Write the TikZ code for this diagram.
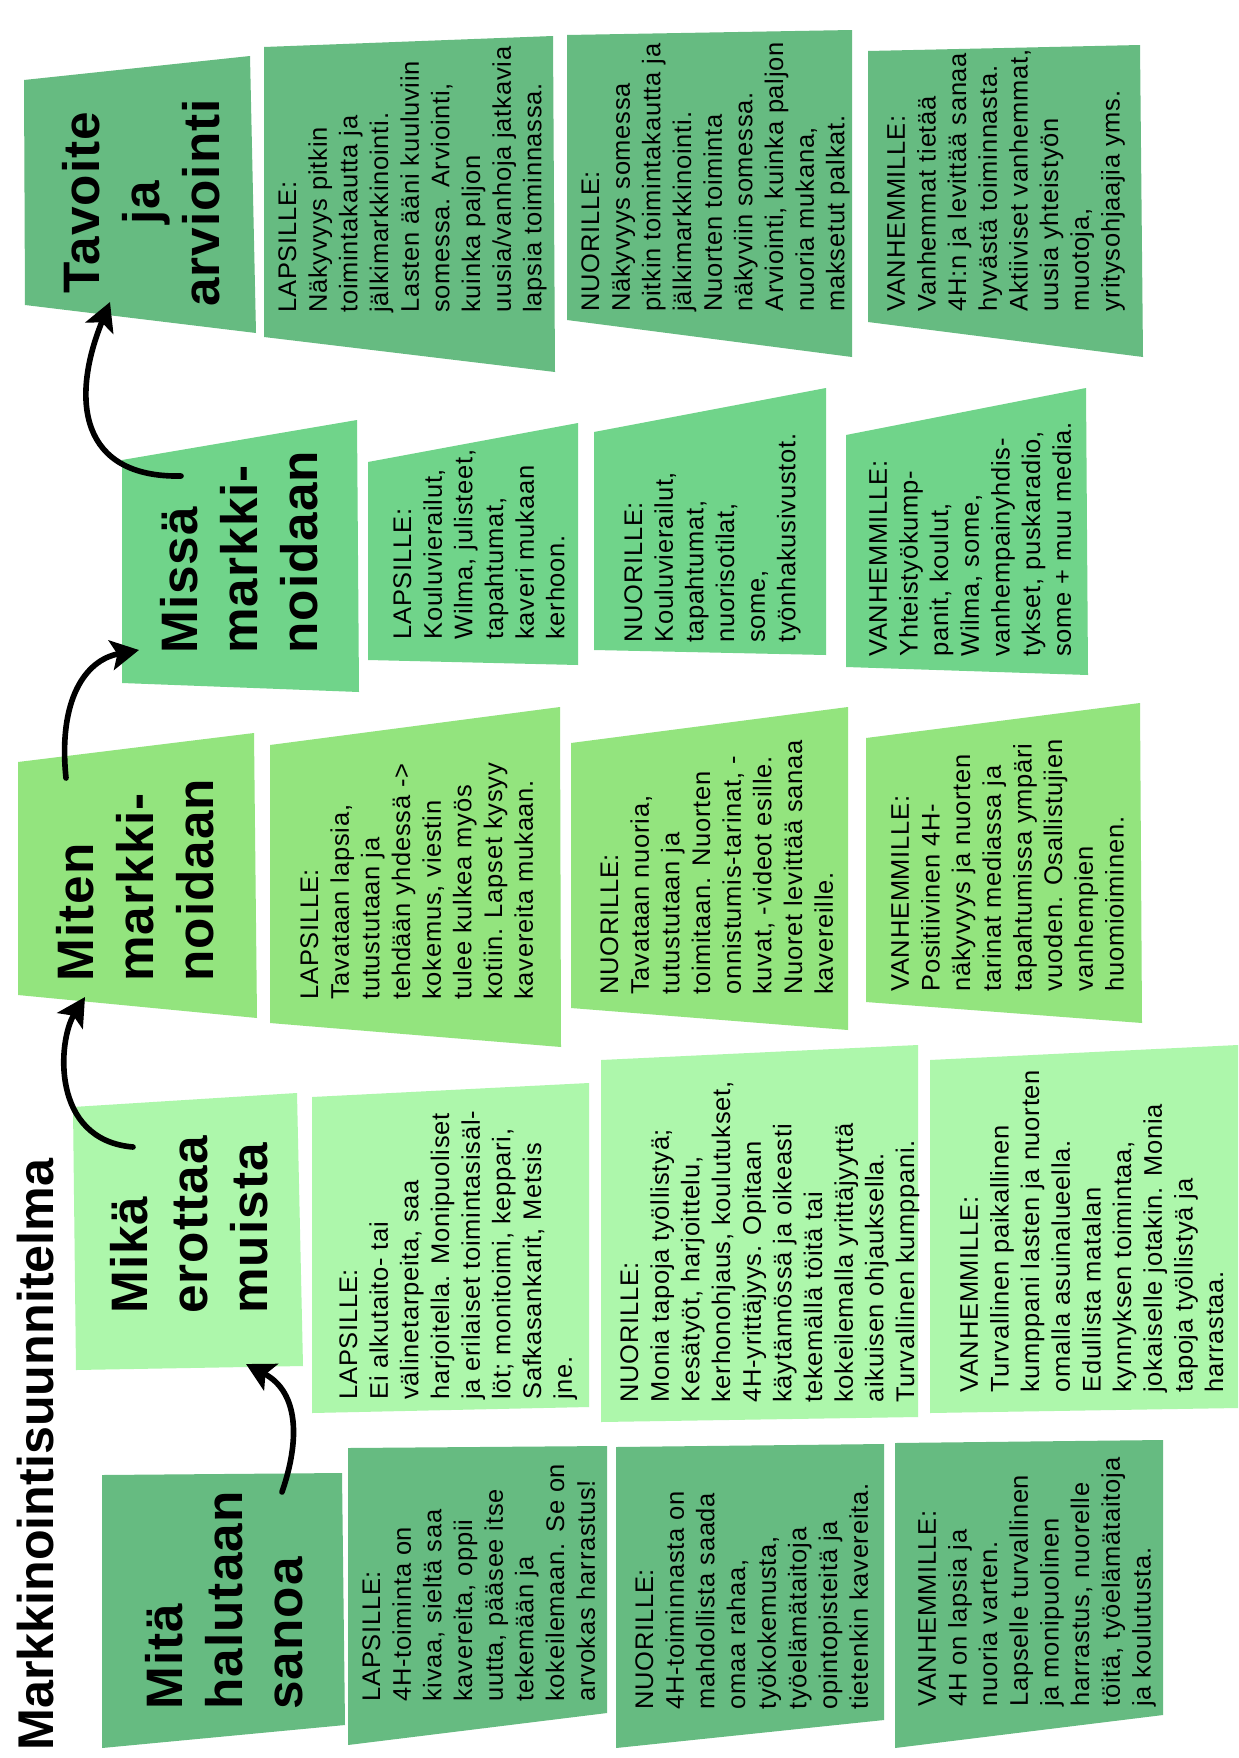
\documentclass[tikz,border=0pt]{standalone}
\usepackage{fontspec}
\usetikzlibrary{arrows.meta}
\newfontfamily\bodyfont[LetterSpace=3]{Liberation Sans}
\newfontfamily\headfont[LetterSpace=2]{Liberation Sans}
\newfontfamily\titlefont{Liberation Sans}
\definecolor{gA}{HTML}{66BB81}
\definecolor{gB}{HTML}{70D48A}
\definecolor{gC}{HTML}{93E47E}
\definecolor{gD}{HTML}{ADF7AB}
\tikzset{
  body/.style={rotate=90, anchor=north west, inner sep=0pt, align=left, text=black,
    font=\bodyfont\fontsize{14.5}{17.45}\selectfont},
  head/.style={rotate=90, anchor=north west, inner sep=0pt, align=left, text=black,
    font=\headfont\bfseries\fontsize{29.2}{34.1}\selectfont},
  flow/.style={line width=3.2pt, line cap=round, -{Stealth[length=16pt,width=17pt,inset=3.5pt]}},
}
\begin{document}
\begin{tikzpicture}[x=0.02cm, y=-0.02cm]
\useasboundingbox (0,0) rectangle (1239,1758);
\fill[white] (0,0) rectangle (1239,1758);

% ---------- column 5 : Tavoite ja arviointi ----------
\fill[gA] (24,80) -- (250,56) -- (256,333) -- (25,305) -- cycle;
\fill[gA] (264,47) -- (553,36) -- (555,372) -- (264,337) -- cycle;
\fill[gA] (567,35) -- (852,30) -- (852,357) -- (567,320) -- cycle;
\fill[gA] (868,51) -- (1140,45) -- (1143,357) -- (868,322) -- cycle;
% ---------- column 4 : Missä ----------
\fill[gB] (122,460) -- (357,420) -- (359,692) -- (122,683) -- cycle;
\fill[gB] (368,462) -- (578,423) -- (578,665) -- (368,660) -- cycle;
\fill[gB] (594,432) -- (826,388) -- (826,655) -- (594,650) -- cycle;
\fill[gB] (846,435) -- (1086,388) -- (1088,675) -- (846,667) -- cycle;
% ---------- column 3 : Miten ----------
\fill[gC] (18,762) -- (254,733) -- (257,1018) -- (18,995) -- cycle;
\fill[gC] (270,745) -- (560,707) -- (561,1047) -- (270,1023) -- cycle;
\fill[gC] (571,743) -- (848,707) -- (848,1030) -- (571,1008) -- cycle;
\fill[gC] (866,738) -- (1140,703) -- (1142,1023) -- (866,1002) -- cycle;
% ---------- column 2 : Mikä ----------
\fill[gD] (73,1107) -- (297,1093) -- (303,1366) -- (76,1370) -- cycle;
\fill[gD] (312,1097) -- (589,1083) -- (589,1407) -- (312,1413) -- cycle;
\fill[gD] (601,1060) -- (918,1045) -- (918,1417) -- (601,1422) -- cycle;
\fill[gD] (930,1060) -- (1238,1045) -- (1238,1408) -- (930,1413) -- cycle;
% ---------- column 1 : Mitä ----------
\fill[gA] (102,1475) -- (342,1473) -- (345,1725) -- (102,1748) -- cycle;
\fill[gA] (348,1448) -- (607,1446) -- (607,1713) -- (348,1745) -- cycle;
\fill[gA] (616,1447) -- (884,1444) -- (884,1720) -- (616,1748) -- cycle;
\fill[gA] (895,1443) -- (1163,1440) -- (1163,1715) -- (895,1748) -- cycle;

% ---------- title ----------
\node[rotate=90, anchor=base west, inner sep=0pt, font=\titlefont\bfseries\fontsize{28.6}{32}\selectfont] (title) at (53,1751) {Markkinointisuunnitelma};

% ---------- headers ----------
\node[head] (h1) at (145,1710) {Mitä\\halutaan\\sanoa};
\node[head] (h2) at (110,1314) {Mikä\\erottaa\\muista};
\node[head] (h3) at (56,982) {Miten\\markki-\\noidaan};
\node[head] (h4) at (160,654) {Missä\\markki-\\noidaan};
\node[head, anchor=north, align=center] (h5) at (62,203) {Tavoite\\ja\\arviointi};

% ---------- column 1 texts ----------
\node[body] (b1a) at (362,1702) {LAPSILLE:\\4H-toiminta on\\kivaa, sieltä saa\\kavereita, oppii\\uutta, pääsee itse\\tekemään ja\\kokeilemaan. Se on\\arvokas harrastus!};
\node[body] (b1b) at (635,1710) {NUORILLE:\\4H-toiminnasta on\\mahdollista saada\\omaa rahaa,\\työkokemusta,\\työelämätaitoja\\opintopisteitä ja\\tietenkin kavereita.};
\node[body] (b1c) at (918,1707) {VANHEMMILLE:\\4H on lapsia ja\\nuoria varten.\\Lapselle turvallinen\\ja monipuolinen\\harrastus, nuorelle\\töitä, työelämätaitoja\\ja koulutusta.};

% ---------- column 2 texts ----------
\node[body] (b2a) at (339,1400) {LAPSILLE:\\Ei alkutaito- tai\\välinetarpeita, saa\\harjoitella. Monipuoliset\\ja erilaiset toimintasisäl-\\löt; monitoimi, keppari,\\Safkasankarit, Metsis\\jne.};
\node[body] (b2b) at (620,1403) {NUORILLE:\\Monia tapoja työllistyä;\\Kesätyöt, harjoittelu,\\kerhonohjaus, koulutukset,\\4H-yrittäjyys. Opitaan\\käytännössä ja oikeasti\\tekemällä töitä tai\\kokeilemalla yrittäjyyttä\\aikuisen ohjauksella.\\Turvallinen kumppani.};
\node[body] (b2c) at (960,1393) {VANHEMMILLE:\\Turvallinen paikallinen\\kumppani lasten ja nuorten\\omalla asuinalueella.\\Edullista matalan\\kynnyksen toimintaa,\\jokaiselle jotakin. Monia\\tapoja työllistyä ja\\harrastaa.};

% ---------- column 3 texts ----------
\node[body] (b3a) at (300,1000) {LAPSILLE:\\Tavataan lapsia,\\tutustutaan ja\\tehdään yhdessä ->\\kokemus, viestin\\tulee kulkea myös\\kotiin. Lapset kysyy\\kavereita mukaan.};
\node[body] (b3b) at (600,995) {NUORILLE:\\Tavataan nuoria,\\tutustutaan ja\\toimitaan. Nuorten\\onnistumis-tarinat, -\\kuvat, -videot esille.\\Nuoret levittää sanaa\\kavereille.};
\node[body] (b3c) at (891,992) {VANHEMMILLE:\\Positiivinen 4H-\\näkyvyys ja nuorten\\tarinat mediassa ja\\tapahtumissa ympäri\\vuoden. Osallistujien\\vanhempien\\huomioiminen.};

% ---------- column 4 texts ----------
\node[body] (b4a) at (393,640) {LAPSILLE:\\Kouluvierailut,\\Wilma, julisteet,\\tapahtumat,\\kaveri mukaan\\kerhoon.};
\node[body] (b4b) at (624,643) {NUORILLE:\\Kouluvierailut,\\tapahtumat,\\nuorisotilat,\\some,\\työnhakusivustot.};
\node[body] (b4c) at (869,657) {VANHEMMILLE:\\Yhteistyökump-\\panit, koulut,\\Wilma, some,\\vanhempainyhdis-\\tykset, puskaradio,\\some + muu media.};

% ---------- column 5 texts ----------
\node[body] (b5a) at (278,313) {LAPSILLE:\\Näkyvyys pitkin\\toimintakautta ja\\jälkimarkkinointi.\\Lasten ääni kuuluviin\\somessa. Arviointi,\\kuinka paljon\\uusia/vanhoja jatkavia\\lapsia toiminnassa.};
\node[body] (b5b) at (581,312) {NUORILLE:\\Näkyvyys somessa\\pitkin toimintakautta ja\\jälkimarkkinointi.\\Nuorten toiminta\\näkyviin somessa.\\Arviointi, kuinka paljon\\nuoria mukana,\\maksetut palkat.};
\node[body] (b5c) at (887,312) {VANHEMMILLE:\\Vanhemmat tietää\\4H:n ja levittää sanaa\\hyvästä toiminnasta.\\Aktiiviset vanhemmat,\\uusia yhteistyön\\muotoja,\\yritysohjaajia yms.};

% ---------- connectors ----------
\coordinate (h1out) at (282,1492);
\coordinate (h2in)  at (246,1364);
\coordinate (h2out) at (133,1147);
\coordinate (h3in)  at (85,997);
\coordinate (h3out) at (66,778);
\coordinate (h4in)  at (139,650);
\coordinate (h4out) at (181,476);
\coordinate (h5in)  at (110,302);
\draw[flow] (h1out) .. controls (300,1440) and (299,1392) .. (h2in);
\draw[flow] (h2out) .. controls (50,1140) and (58,1040) .. (h3in);
\draw[flow] (h3out) .. controls (58,700) and (85,660) .. (h4in);
\draw[flow] (h4out) .. controls (80,478) and (70,400) .. (h5in);
\end{tikzpicture}
\end{document}
